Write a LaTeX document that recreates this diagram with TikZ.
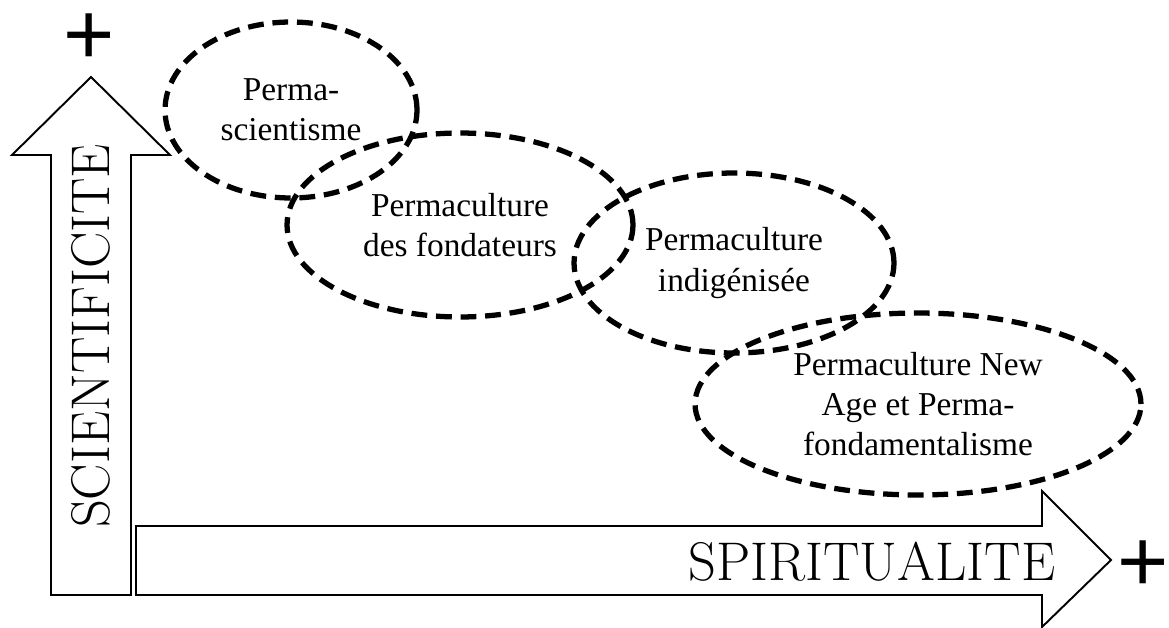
\documentclass[tikz,border=0pt]{standalone}
\usepackage{fontspec}
\newfontfamily\bullefont{Liberation Serif}
\newfontfamily\plusfont{Liberation Sans}
\usetikzlibrary{shapes.geometric}

\begin{document}
\begin{tikzpicture}[x=0.02cm, y=-0.02cm,
        bulle/.style={ellipse, draw, line width=3pt, dash pattern=on 9pt off 5pt,
            inner sep=0pt, align=center, font=\bullefont\fontsize{19}{23}\selectfont},
        fleche/.style={draw, line width=1.1pt, line join=miter},
        axe/.style={font=\fontsize{31}{31}\selectfont, inner sep=0pt},
        signe/.style={font=\plusfont\fontsize{50}{50}\selectfont, inner sep=0pt}]
    \useasboundingbox (0,0) rectangle (1169,628);
    % les deux axes
    \draw[fleche] (51,595) -- (51,155) -- (12,155) -- (91,77) -- (170,155) -- (131,155) -- (131,595) -- cycle;
    \draw[fleche] (136,526) -- (1042,526) -- (1042,491) -- (1111,560) -- (1042,627) -- (1042,595) -- (136,595) -- cycle;
    \node[axe, rotate=90] (sci) at (91,336) {SCIENTIFICITE};
    \node[axe] (spi) at (872,562) {SPIRITUALITE};
    \node[signe] (plussci) at (89,39) {+};
    \node[signe] (plusspi) at (1143,566) {+};
    % les bulles
    \node[bulle, minimum width=5.04cm, minimum height=3.52cm] (scient) at (291,110) {Perma-\\scientisme};
    \node[bulle, minimum width=6.92cm, minimum height=3.68cm] (fond) at (460,225) {Permaculture\\des fondateurs};
    \node[bulle, minimum width=6.4cm, minimum height=3.6cm] (indig) at (734,263) {Permaculture\\indigénisée};
    \node[bulle, minimum width=8.92cm, minimum height=3.64cm] (newage) at (918,404) {Permaculture New\\Age et Perma-\\fondamentalisme};
\end{tikzpicture}
\end{document}
